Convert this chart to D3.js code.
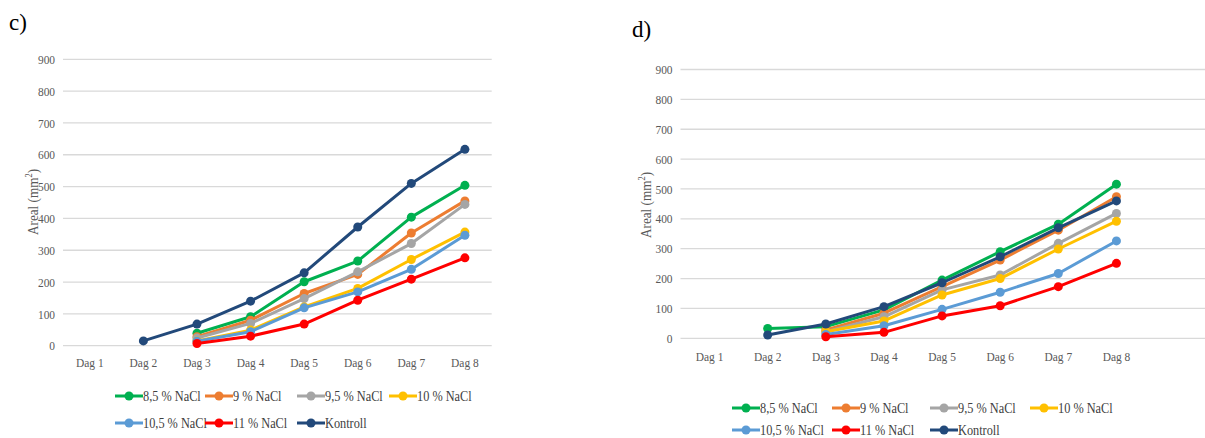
<!DOCTYPE html>
<html>
<head>
<meta charset="utf-8">
<script src="https://cdn.jsdelivr.net/npm/d3@7"></script>
<style>
  body { margin: 0; background: #fff; }
  svg text { font-family: "Liberation Serif", "Times New Roman", serif !important; }
</style>
</head>
<body>
<svg id="chart" width="1205" height="438"></svg>
<script>
// ── Data ─────────────────────────────────────────
var days = ["Dag 1", "Dag 2", "Dag 3", "Dag 4", "Dag 5", "Dag 6", "Dag 7", "Dag 8"];
var yTicks = [0, 100, 200, 300, 400, 500, 600, 700, 800, 900];
var seriesNames = ["8,5 % NaCl", "9 % NaCl", "9,5 % NaCl", "10 % NaCl", "10,5 % NaCl", "11 % NaCl", "Kontroll"];
var seriesColors = ["#00B050", "#ED7D31", "#A5A5A5", "#FFC000", "#5B9BD5", "#FF0000", "#22497A"];

// panel c) — null = no measurement
var cNaCl85 = [null, null, 39, 91, 201, 266, 404, 504];
var cNaCl9 = [null, null, 28, 80, 164, 224, 354, 455];
var cNaCl95 = [null, null, 24, 70, 148, 232, 321, 444];
var cNaCl10 = [null, null, 15, 49, 122, 180, 271, 357];
var cNaCl105 = [null, null, 14, 44, 119, 169, 240, 347];
var cNaCl11 = [null, null, 7, 30, 68, 143, 209, 276];
var cKontroll = [null, 15, 68, 140, 229, 373, 510, 617];

// panel d)
var dNaCl85 = [null, 33, 39, 95, 195, 290, 382, 516];
var dNaCl9 = [null, null, 28, 84, 173, 262, 362, 474];
var dNaCl95 = [null, null, 22, 72, 162, 212, 318, 418];
var dNaCl10 = [null, null, 22, 58, 145, 200, 299, 392];
var dNaCl105 = [null, null, 13, 42, 97, 154, 217, 326];
var dNaCl11 = [null, null, 5, 20, 75, 109, 173, 251];
var dKontroll = [null, 11, 48, 106, 186, 273, 370, 460];

var svg = d3.select("#chart");
var SX = 0.88; // the source text is horizontally squeezed

function drawPanel(p) {
  var g = svg.append("g");
  var x = d3.scaleBand().domain(days).range([p.x0, p.x1]);
  var y = d3.scaleLinear().domain([0, 900]).range([p.y0, p.y1]);
  var cx = function (i) { return x(days[i]) + x.bandwidth() / 2; };

  // panel letter
  g.append("text").attr("x", p.lx).attr("y", p.ly)
    .attr("font-size", 23).attr("fill", "#000").text(p.letter);

  // grid
  g.selectAll(".grid").data(yTicks).join("line")
    .attr("x1", p.x0).attr("x2", p.gridEnd)
    .attr("y1", function (d) { return y(d); }).attr("y2", function (d) { return y(d); })
    .attr("stroke", "#D9D9D9").attr("stroke-width", 1.3);

  // y axis
  var ya = g.append("g").attr("transform", "translate(" + p.x0 + ",0)")
    .call(d3.axisLeft(y).tickValues(yTicks).tickSize(0).tickPadding(9));
  ya.select(".domain").remove();
  ya.selectAll("text").attr("font-size", 13)
    .attr("fill", "#595959").attr("transform", "scale(" + SX + ",1)");

  // x axis
  var xa = g.append("g").attr("transform", "translate(0," + p.xLabY + ")")
    .call(d3.axisBottom(x).tickSize(0).tickPadding(0));
  xa.select(".domain").remove();
  xa.selectAll("text").attr("font-size", 13).attr("fill", "#595959")
    .attr("y", 0).attr("dy", "0").attr("transform", "scale(" + SX + ",1)");

  // axis title
  var title = g.append("text")
    .attr("transform", "translate(" + p.tx + "," + p.ty + ") rotate(-90) scale(" + SX + ",1)")
    .attr("text-anchor", "middle").attr("font-size", 15).attr("fill", "#595959");
  title.append("tspan").text("Areal (mm");
  title.append("tspan").attr("font-size", 9.5).attr("dy", -6).text("2");
  title.append("tspan").attr("dy", 6).text(")");

  // lines + markers
  var line = d3.line()
    .defined(function (d) { return d != null; })
    .x(function (d, i) { return cx(i); })
    .y(function (d) { return y(d); });

  p.series.forEach(function (vals, k) {
    var col = seriesColors[k];
    g.append("path").datum(vals).attr("d", line)
      .attr("fill", "none").attr("stroke", col).attr("stroke-width", 3)
      .attr("stroke-linejoin", "round");
    g.selectAll(".pt" + k).data(vals.map(function (v, i) { return { v: v, i: i }; })
      .filter(function (d) { return d.v != null; }))
      .join("circle")
      .attr("cx", function (d) { return cx(d.i); })
      .attr("cy", function (d) { return y(d.v); })
      .attr("r", 4.5).attr("fill", col);
  });

  // legend
  var lg = g.append("g");
  seriesNames.forEach(function (name, k) {
    var row = k < 4 ? 0 : 1;
    var col = k < 4 ? k : k - 4;
    var lx = p.legX[col], ly = p.legY[row];
    lg.append("line").attr("x1", lx).attr("x2", lx + 28).attr("y1", ly).attr("y2", ly)
      .attr("stroke", seriesColors[k]).attr("stroke-width", 3);
    lg.append("circle").attr("cx", lx + 14).attr("cy", ly).attr("r", 4.5).attr("fill", seriesColors[k]);
    lg.append("text")
      .attr("transform", "translate(" + (lx + 28) + "," + (ly + 4.5) + ") scale(" + SX + ",1)")
      .attr("font-size", 14).attr("fill", "#404040").text(name);
  });
}

drawPanel({
  letter: "c)", lx: 9, ly: 30,
  x0: 63, x1: 491.7, gridEnd: 491.7, y0: 345.7, y1: 59.3, xLabY: 367,
  tx: 38, ty: 202,
  legX: [115, 205, 297, 389], legY: [396, 423],
  series: [cNaCl85, cNaCl9, cNaCl95, cNaCl10, cNaCl105, cNaCl11, cKontroll]
});

drawPanel({
  letter: "d)", lx: 632, ly: 37,
  x0: 680.5, x1: 1145.5, gridEnd: 1205, y0: 338.3, y1: 69.5, xLabY: 361,
  tx: 651, ty: 205,
  legX: [732, 832, 930, 1030], legY: [408, 430],
  series: [dNaCl85, dNaCl9, dNaCl95, dNaCl10, dNaCl105, dNaCl11, dKontroll]
});
</script>
</body>
</html>
